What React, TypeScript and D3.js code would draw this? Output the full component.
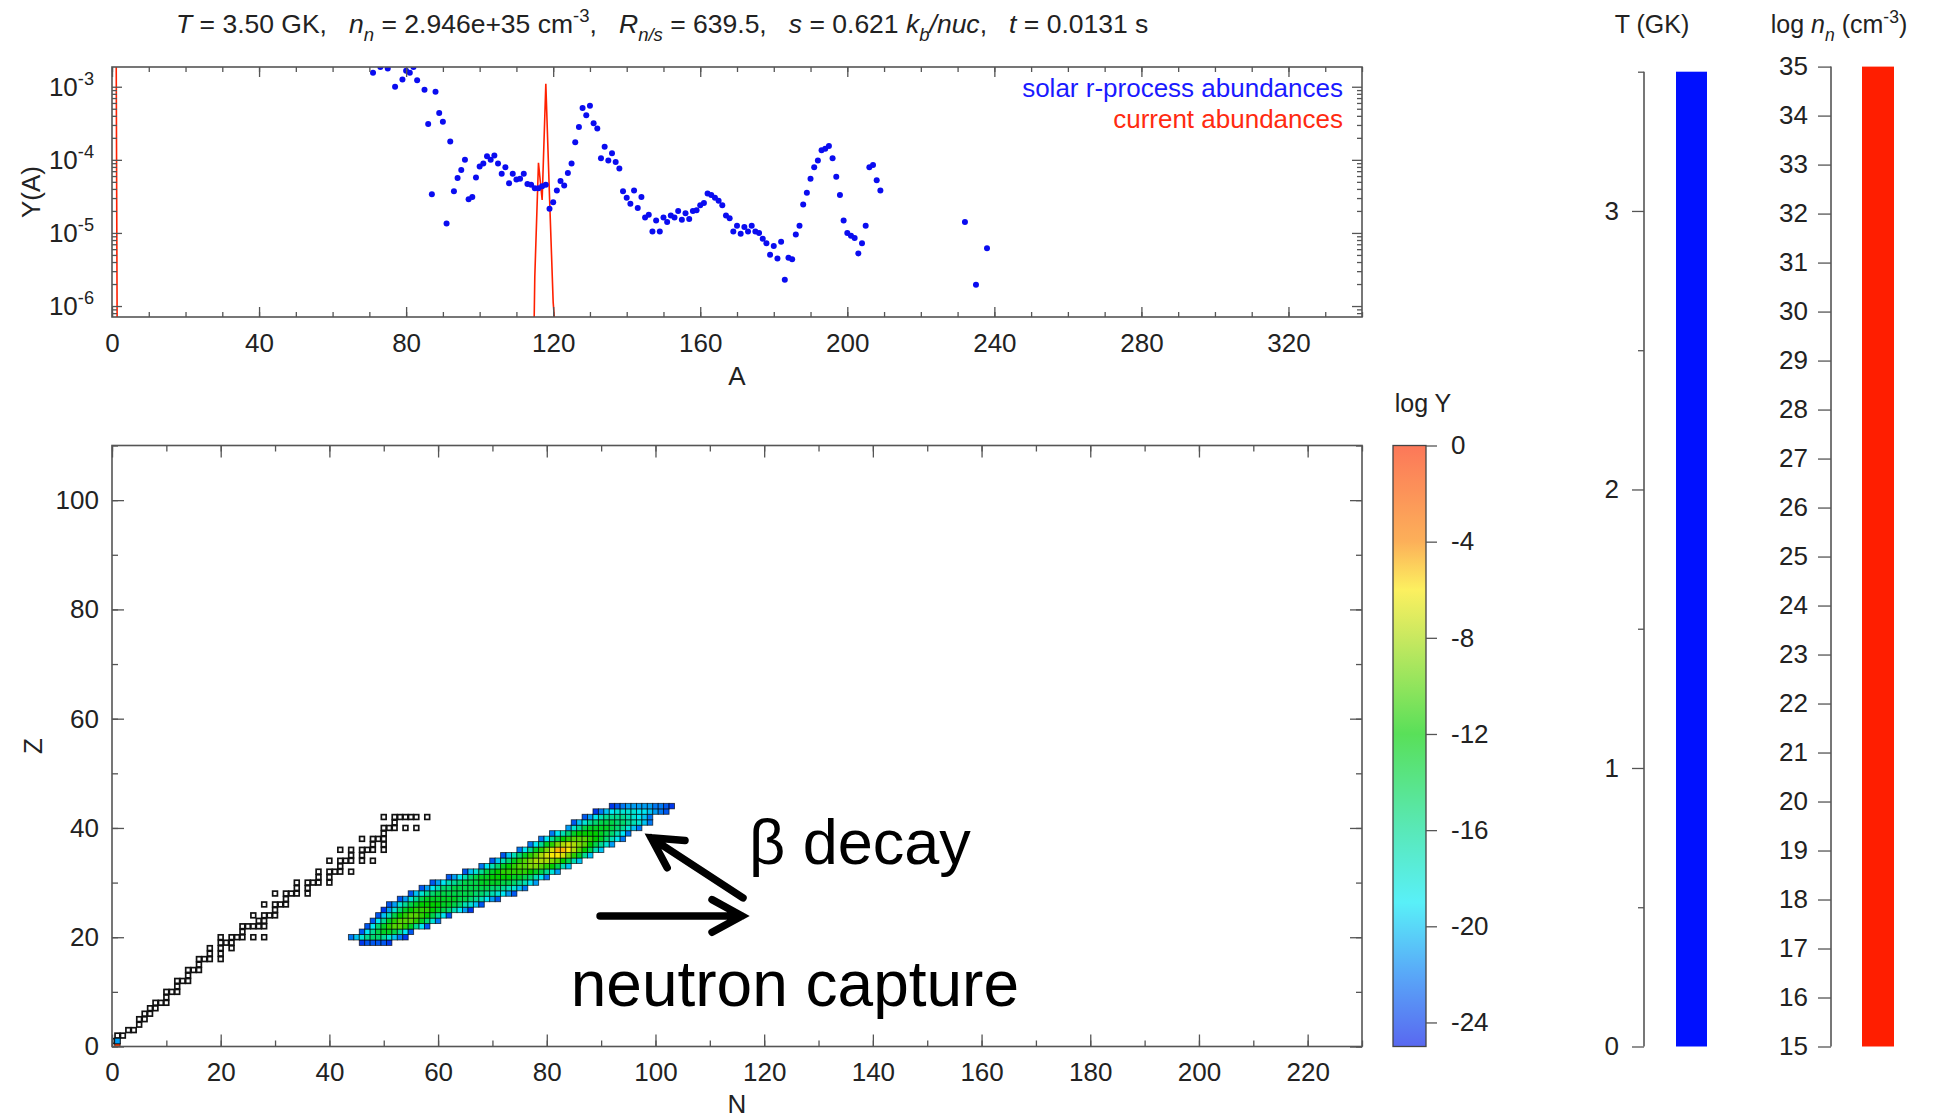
import { useEffect, useRef } from 'react';
import * as d3 from 'd3';

const W = 1935;
const H = 1119;
const FONT = '"Liberation Sans", Arial, Helvetica, sans-serif';
const AXIS = '#555';

// solar r-process abundances (A, log10 Y)
const solarA = [71, 73, 75, 77, 79, 80, 81, 82, 83, 85, 86, 87, 88, 89, 90, 91, 92, 93, 94, 95, 96, 97, 98, 99,
  100, 101, 102, 103, 104, 105, 106, 107, 108, 109, 110, 111, 112, 113, 114, 115, 116, 117, 118, 119, 120,
  121, 122, 123, 124, 125, 126, 127, 128, 129, 130, 131, 132, 133, 134, 135, 136, 137, 138, 139, 140, 141,
  142, 143, 144, 145, 146, 147, 148, 149, 150, 151, 152, 153, 154, 155, 156, 157, 158, 159, 160, 161, 162,
  163, 164, 165, 166, 167, 168, 169, 170, 171, 172, 173, 174, 175, 176, 177, 178, 179, 180, 181, 182, 183,
  184, 185, 186, 187, 188, 189, 190, 191, 192, 193, 194, 195, 196, 197, 198, 199, 200, 201, 202, 203, 204,
  205, 206, 207, 208, 209, 232, 235, 238];
const solarLogY = [-2.81, -2.73, -2.75, -3.0, -2.9, -2.78, -2.81, -2.73, -2.91, -3.04, -3.51, -4.47, -3.07,
  -3.36, -3.48, -4.87, -3.75, -4.43, -4.25, -4.14, -4.0, -4.54, -4.51, -4.24, -4.09, -4.05, -3.95, -4.0,
  -3.94, -4.05, -4.19, -4.1, -4.32, -4.19, -4.27, -4.26, -4.19, -4.33, -4.34, -4.39, -4.39, -4.36, -4.34,
  -4.67, -4.58, -4.42, -4.29, -4.35, -4.18, -4.05, -3.76, -3.55, -3.29, -3.39, -3.26, -3.5, -3.57, -3.98,
  -3.82, -4.01, -3.91, -4.03, -4.12, -4.43, -4.52, -4.6, -4.42, -4.66, -4.51, -4.79, -4.75, -4.98, -4.83,
  -4.98, -4.79, -4.85, -4.76, -4.79, -4.7, -4.82, -4.73, -4.81, -4.7, -4.69, -4.62, -4.59, -4.46, -4.48,
  -4.52, -4.56, -4.62, -4.76, -4.8, -4.98, -4.9, -5.01, -4.92, -4.98, -4.9, -4.98, -5.0, -5.08, -5.14,
  -5.3, -5.18, -5.35, -5.12, -5.64, -5.34, -5.36, -5.02, -4.9, -4.61, -4.45, -4.26, -4.1, -4.01, -3.87,
  -3.85, -3.81, -3.98, -4.23, -4.48, -4.83, -5.0, -5.04, -5.07, -5.28, -5.14, -4.9, -4.1, -4.07, -4.28,
  -4.42, -4.85, -5.71, -5.21];

// current abundances (A, log10 Y)
const currentA = [1, 2, 114, 115, 116, 117, 118, 119, 120, 121];
const currentLogY = [-0.5, -15, -9, -5.6, -4.04, -4.55, -2.96, -4.5, -5.95, -6.6];

// r-process path: [Z, first N, log Y of each cell]
const pathRows: [number, number, number[]][] = [
  [19, 46, [-24, -23, -23, -23, -23, -24]],
  [20, 44, [-22, -20, -18, -16, -15, -15, -16, -18, -20, -22, -24]],
  [21, 46, [-23, -19, -16, -14, -13, -13, -14, -16, -19, -23]],
  [22, 47, [-23, -19, -15, -13, -11, -10, -10, -11, -13, -16, -19, -23]],
  [23, 48, [-23, -19, -16, -13, -11, -10, -10, -10, -11, -13, -15, -18, -22]],
  [24, 49, [-23, -20, -17, -14, -12, -11, -10, -10, -11, -12, -14, -16, -19, -23]],
  [25, 50, [-24, -21, -18, -15, -13, -12, -11, -11, -11, -12, -13, -14, -15, -17, -19, -21, -24]],
  [26, 51, [-23, -21, -18, -16, -14, -13, -12, -12, -12, -12, -13, -13, -14, -15, -17, -18, -20, -23]],
  [27, 53, [-23, -21, -18, -16, -14, -13, -13, -13, -13, -13, -13, -14, -14, -15, -16, -17, -19, -21, -23]],
  [28, 55, [-23, -20, -18, -16, -15, -14, -14, -14, -14, -14, -14, -14, -15, -15, -16, -17, -18, -19, -21, -23]],
  [29, 57, [-23, -21, -19, -17, -15, -15, -14, -14, -14, -14, -14, -14, -14, -15, -15, -16, -17, -18, -20, -22]],
  [30, 59, [-23, -21, -19, -17, -16, -15, -14, -14, -14, -13, -13, -13, -13, -14, -14, -15, -16, -17, -19, -21]],
  [31, 62, [-23, -21, -19, -17, -15, -14, -13, -13, -12, -12, -12, -12, -13, -13, -14, -15, -17, -19, -22]],
  [32, 65, [-23, -20, -18, -16, -14, -13, -12, -11, -11, -11, -11, -11, -12, -13, -14, -16, -18, -21]],
  [33, 68, [-22, -19, -17, -15, -13, -12, -11, -10, -10, -9, -9, -10, -11, -12, -14, -17, -20]],
  [34, 70, [-23, -20, -17, -15, -13, -11, -10, -9, -8, -8, -8, -9, -10, -12, -14, -17, -20]],
  [35, 72, [-23, -20, -17, -15, -13, -11, -10, -8, -7, -6, -6, -7, -9, -11, -13, -16, -20]],
  [36, 75, [-22, -19, -16, -13, -11, -9, -7, -5, -5, -6, -8, -10, -12, -14, -17, -20]],
  [37, 77, [-22, -19, -16, -13, -11, -9, -8, -7, -8, -9, -10, -12, -14, -16, -18, -21]],
  [38, 79, [-22, -19, -16, -14, -12, -11, -10, -10, -10, -11, -12, -13, -15, -17, -19, -22]],
  [39, 81, [-22, -19, -17, -15, -13, -12, -12, -12, -12, -13, -14, -15, -17, -19, -22]],
  [40, 84, [-21, -18, -16, -14, -13, -13, -13, -13, -14, -15, -16, -18, -20, -22]],
  [41, 85, [-23, -20, -18, -16, -15, -14, -14, -14, -15, -15, -16, -17, -18, -20, -22]],
  [42, 87, [-23, -21, -19, -17, -16, -16, -16, -16, -17, -18, -19, -20, -22]],
  [43, 89, [-24, -22, -20, -19, -18, -18, -18, -18, -19, -19, -20, -21, -22, -23]],
  [44, 92, [-24, -23, -22, -21, -21, -21, -21, -21, -22, -22, -23, -24]],
];
// light particles: [N, Z, log Y]
const lightCells: [number, number, number][] = [[1, 0, -0.4], [1, 1, -21]];

// stable isotopes: [Z, N values]
const stableIsotopes: [number, number[]][] = [
  [1, [0, 1]], [2, [1, 2]], [3, [3, 4]], [4, [5]], [5, [5, 6]], [6, [6, 7]], [7, [7, 8]], [8, [8, 9, 10]],
  [9, [10]], [10, [10, 11, 12]], [11, [12]], [12, [12, 13, 14]], [13, [14]], [14, [14, 15, 16]], [15, [16]],
  [16, [16, 17, 18, 20]], [17, [18, 20]], [18, [18, 20, 22]], [19, [20, 21, 22]], [20, [20, 22, 23, 24, 26, 28]],
  [21, [24]], [22, [24, 25, 26, 27, 28]], [23, [27, 28]], [24, [26, 28, 29, 30]], [25, [30]], [26, [28, 30, 31, 32]],
  [27, [32]], [28, [30, 32, 33, 34, 36]], [29, [34, 36]], [30, [34, 36, 37, 38, 40]], [31, [38, 40]],
  [32, [38, 40, 41, 42, 44]], [33, [42]], [34, [40, 42, 43, 44, 46, 48]], [35, [44, 46]],
  [36, [42, 44, 46, 47, 48, 50]], [37, [48, 50]], [38, [46, 48, 49, 50]], [39, [50]], [40, [50, 51, 52, 54, 56]],
  [41, [52]], [42, [50, 52, 53, 54, 55, 56, 58]],
];

const colorStops = [-25, -22, -19, -16, -12, -8, -6, -4, 0];
const colorValues = ['#0017e8', '#0079f4', '#00e8f4', '#00dc92', '#00cf00', '#abdc0a', '#fae80a', '#fa8500', '#fa2f00'];
const colorbarTicks = [0, -4, -8, -12, -16, -20, -24];

const temperature = 3.5;
const logNn = Math.log10(2.946e35);

const titleParts = [
  { t: 'T', i: true }, { t: ' = 3.50 GK,   ' }, { t: 'n', i: true }, { t: 'n', i: true, sub: true },
  { t: ' = 2.946e+35 cm' }, { t: '-3', sup: true }, { t: ',   ' }, { t: 'R', i: true },
  { t: 'n/s', i: true, sub: true }, { t: ' = 639.5,   ' }, { t: 's', i: true }, { t: ' = 0.621 ' },
  { t: 'k', i: true }, { t: 'b', i: true, sub: true }, { t: '/nuc', i: true }, { t: ',   ' },
  { t: 't', i: true }, { t: ' = 0.0131 s' },
];

type Part = { t: string; i?: boolean; sub?: boolean; sup?: boolean };

const rich = (sel: any, parts: Part[], size: number) => {
  let shift = 0;
  parts.forEach(p => {
    const target = p.sub ? size * 0.3 : p.sup ? -size * 0.42 : 0;
    sel.append('tspan')
      .attr('dy', target - shift)
      .attr('font-size', p.sub || p.sup ? size * 0.7 : size)
      .attr('font-style', p.i ? 'italic' : 'normal')
      .text(p.t);
    shift = target;
  });
};

const plain = (d: any) => String(d);

const styleAxis = (g: any, size = 26) => {
  g.select('.domain').remove();
  g.attr('font-family', FONT).attr('font-size', size).attr('color', '#222');
  g.selectAll('.tick line').attr('stroke', AXIS).attr('stroke-width', 1.3);
};

const App = () => {
  const svgRef = useRef<SVGSVGElement>(null);

  useEffect(() => {
    const svg = d3.select(svgRef.current);
    svg.selectAll('*').remove();
    svg.append('rect').attr('width', W).attr('height', H).attr('fill', '#fff');
    const defs = svg.append('defs');

    // ---------- title ----------
    const title = svg.append('text')
      .attr('x', 176).attr('y', 33)
      .attr('font-family', FONT).attr('font-size', 26.5).attr('fill', '#222')
      .style('white-space', 'pre');
    rich(title, titleParts, 26.5);

    // ---------- top panel: Y(A) ----------
    const xA = d3.scaleLinear().domain([0, 340]).range([112, 1362]);
    const yY = d3.scaleLog().domain([Math.pow(10, -6.15), Math.pow(10, -2.73)]).range([317, 67]);
    const [tx0, tx1] = xA.range();
    const [ty1, ty0] = yY.range();

    defs.append('clipPath').attr('id', 'clip-top').append('rect')
      .attr('x', tx0).attr('y', ty0).attr('width', tx1 - tx0).attr('height', ty1 - ty0);

    const gTop = svg.append('g');
    const plotTop = gTop.append('g').attr('clip-path', 'url(#clip-top)');

    const current = currentA.map((a, i) => ({ a, y: Math.pow(10, currentLogY[i]) }));
    plotTop.append('path')
      .datum(current)
      .attr('fill', 'none')
      .attr('stroke', '#ff2000')
      .attr('stroke-width', 1.6)
      .attr('d', d3.line<any>().x(d => xA(d.a)).y(d => yY(d.y)));

    plotTop.selectAll('.solar')
      .data(solarA.map((a, i) => ({ a, y: Math.pow(10, solarLogY[i]) })))
      .enter()
      .append('circle')
      .attr('cx', d => xA(d.a))
      .attr('cy', d => yY(d.y))
      .attr('r', 3)
      .attr('fill', '#0a0cf0');

    // x ticks
    const minorA = d3.range(0, 341, 10);
    const majorA = d3.range(0, 321, 40);
    styleAxis(gTop.append('g').attr('transform', `translate(0,${ty1})`)
      .call(d3.axisBottom(xA).tickValues(majorA).tickSize(-10).tickPadding(17).tickFormat(plain)));
    styleAxis(gTop.append('g').attr('transform', `translate(0,${ty1})`)
      .call(d3.axisBottom(xA).tickValues(minorA).tickSize(-5).tickFormat(() => '')));
    styleAxis(gTop.append('g').attr('transform', `translate(0,${ty0})`)
      .call(d3.axisTop(xA).tickValues(majorA).tickSize(-10).tickFormat(() => '')));
    styleAxis(gTop.append('g').attr('transform', `translate(0,${ty0})`)
      .call(d3.axisTop(xA).tickValues(minorA).tickSize(-5).tickFormat(() => '')));

    // log y ticks
    const majorY = [-3, -4, -5, -6].map(k => Math.pow(10, k));
    const minorY: number[] = [];
    for (let k = -7; k <= -3; k++) {
      for (let m = 2; m <= 9; m++) {
        const v = m * Math.pow(10, k);
        if (v > yY.domain()[0] && v < yY.domain()[1]) minorY.push(v);
      }
    }
    [[tx0, d3.axisLeft], [tx1, d3.axisRight]].forEach(([x, ax]: any) => {
      styleAxis(gTop.append('g').attr('transform', `translate(${x},0)`)
        .call(ax(yY).tickValues(majorY).tickSize(-10).tickFormat(() => '')));
      styleAxis(gTop.append('g').attr('transform', `translate(${x},0)`)
        .call(ax(yY).tickValues(minorY).tickSize(-5).tickFormat(() => '')));
    });
    [-3, -4, -5, -6].forEach(k => {
      const t = gTop.append('text')
        .attr('x', tx0 - 18).attr('y', yY(Math.pow(10, k)) + 9)
        .attr('text-anchor', 'end')
        .attr('font-family', FONT).attr('font-size', 26).attr('fill', '#222');
      rich(t, [{ t: '10' }, { t: String(k), sup: true }], 26);
    });

    gTop.append('rect')
      .attr('x', tx0).attr('y', ty0).attr('width', tx1 - tx0).attr('height', ty1 - ty0)
      .attr('fill', 'none').attr('stroke', AXIS).attr('stroke-width', 1.6);

    gTop.append('text')
      .attr('transform', `translate(31,${(ty0 + ty1) / 2}) rotate(-90)`)
      .attr('text-anchor', 'middle').attr('dy', '0.35em')
      .attr('font-family', FONT).attr('font-size', 26).attr('fill', '#222')
      .text('Y(A)');
    gTop.append('text')
      .attr('x', (tx0 + tx1) / 2).attr('y', 385)
      .attr('text-anchor', 'middle')
      .attr('font-family', FONT).attr('font-size', 26).attr('fill', '#222')
      .text('A');

    gTop.append('text')
      .attr('x', 1343).attr('y', 97).attr('text-anchor', 'end')
      .attr('font-family', FONT).attr('font-size', 26).attr('fill', '#1a1aff')
      .text('solar r-process abundances');
    gTop.append('text')
      .attr('x', 1343).attr('y', 128).attr('text-anchor', 'end')
      .attr('font-family', FONT).attr('font-size', 26).attr('fill', '#ff2a10')
      .text('current abundances');

    // ---------- bottom panel: chart of nuclides ----------
    const xN = d3.scaleLinear().domain([0, 230]).range([112, 1362]);
    const yZ = d3.scaleLinear().domain([0, 110]).range([1046.5, 445.5]);
    const [bx0, bx1] = xN.range();
    const [by1, by0] = yZ.range();
    const cw = xN(1) - xN(0);
    const ch = yZ(0) - yZ(1);
    const color = d3.scaleLinear<string>().domain(colorStops).range(colorValues).clamp(true);

    defs.append('clipPath').attr('id', 'clip-bottom').append('rect')
      .attr('x', bx0).attr('y', by0).attr('width', bx1 - bx0).attr('height', by1 - by0);

    const gBot = svg.append('g');
    const plotBot = gBot.append('g').attr('clip-path', 'url(#clip-bottom)');

    const stable = stableIsotopes.flatMap(([z, ns]) => ns.map(n => ({ n, z })));
    const sq = cw * 0.88;
    plotBot.selectAll('.stable')
      .data(stable)
      .enter()
      .append('rect')
      .attr('x', d => xN(d.n) - sq / 2)
      .attr('y', d => yZ(d.z) - sq / 2)
      .attr('width', sq)
      .attr('height', sq)
      .attr('fill', '#fff')
      .attr('stroke', '#111')
      .attr('stroke-width', 1.7);

    const cells = pathRows.flatMap(([z, n0, vals]) => vals.map((v, i) => ({ n: n0 + i, z, v })))
      .concat(lightCells.map(([n, z, v]) => ({ n, z, v })));
    plotBot.selectAll('.cell')
      .data(cells)
      .enter()
      .append('rect')
      .attr('x', d => xN(d.n - 0.5))
      .attr('y', d => yZ(d.z + 0.5))
      .attr('width', cw)
      .attr('height', ch)
      .attr('fill', d => color(d.v))
      .attr('stroke', '#000')
      .attr('stroke-opacity', 0.7)
      .attr('stroke-width', 0.9);

    const majorN = d3.range(0, 221, 20);
    const minorN = d3.range(0, 231, 10);
    const majorZ = d3.range(0, 101, 20);
    const minorZ = d3.range(0, 111, 10);
    styleAxis(gBot.append('g').attr('transform', `translate(0,${by1})`)
      .call(d3.axisBottom(xN).tickValues(majorN).tickSize(-12).tickPadding(16).tickFormat(plain)));
    styleAxis(gBot.append('g').attr('transform', `translate(0,${by1})`)
      .call(d3.axisBottom(xN).tickValues(minorN).tickSize(-6).tickFormat(() => '')));
    styleAxis(gBot.append('g').attr('transform', `translate(0,${by0})`)
      .call(d3.axisTop(xN).tickValues(majorN).tickSize(-12).tickFormat(() => '')));
    styleAxis(gBot.append('g').attr('transform', `translate(0,${by0})`)
      .call(d3.axisTop(xN).tickValues(minorN).tickSize(-6).tickFormat(() => '')));
    styleAxis(gBot.append('g').attr('transform', `translate(${bx0},0)`)
      .call(d3.axisLeft(yZ).tickValues(majorZ).tickSize(-12).tickPadding(13).tickFormat(plain)));
    styleAxis(gBot.append('g').attr('transform', `translate(${bx0},0)`)
      .call(d3.axisLeft(yZ).tickValues(minorZ).tickSize(-6).tickFormat(() => '')));
    styleAxis(gBot.append('g').attr('transform', `translate(${bx1},0)`)
      .call(d3.axisRight(yZ).tickValues(majorZ).tickSize(-12).tickFormat(() => '')));
    styleAxis(gBot.append('g').attr('transform', `translate(${bx1},0)`)
      .call(d3.axisRight(yZ).tickValues(minorZ).tickSize(-6).tickFormat(() => '')));

    gBot.append('rect')
      .attr('x', bx0).attr('y', by0).attr('width', bx1 - bx0).attr('height', by1 - by0)
      .attr('fill', 'none').attr('stroke', AXIS).attr('stroke-width', 1.6);

    gBot.append('text')
      .attr('transform', `translate(33,${(by0 + by1) / 2}) rotate(-90)`)
      .attr('text-anchor', 'middle').attr('dy', '0.35em')
      .attr('font-family', FONT).attr('font-size', 26).attr('fill', '#222')
      .text('Z');
    gBot.append('text')
      .attr('x', (bx0 + bx1) / 2).attr('y', 1113)
      .attr('text-anchor', 'middle')
      .attr('font-family', FONT).attr('font-size', 26).attr('fill', '#222')
      .text('N');

    // annotations
    const drawArrow = (from: number[], to: number[]) => {
      const x1 = xN(from[0]), y1 = yZ(from[1]), x2 = xN(to[0]), y2 = yZ(to[1]);
      const ang = Math.atan2(y2 - y1, x2 - x1);
      const len = 34, spread = 0.5;
      const a1 = [x2 - len * Math.cos(ang - spread), y2 - len * Math.sin(ang - spread)];
      const a2 = [x2 - len * Math.cos(ang + spread), y2 - len * Math.sin(ang + spread)];
      gBot.append('path')
        .attr('d', `M${x1},${y1}L${x2},${y2}M${a1[0]},${a1[1]}L${x2},${y2}L${a2[0]},${a2[1]}`)
        .attr('fill', 'none').attr('stroke', '#000').attr('stroke-width', 7.5)
        .attr('stroke-linecap', 'round').attr('stroke-linejoin', 'miter');
    };
    drawArrow([89.8, 23.9], [115.9, 23.9]);
    drawArrow([116.1, 27.2], [99.2, 38.2]);

    gBot.append('text')
      .attr('x', xN(117.2)).attr('y', yZ(33.4))
      .attr('font-family', FONT).attr('font-size', 63).attr('fill', '#000')
      .text('β decay');
    gBot.append('text')
      .attr('x', xN(84.4)).attr('y', yZ(7.4))
      .attr('font-family', FONT).attr('font-size', 64).attr('fill', '#000')
      .text('neutron capture');

    // ---------- colorbar ----------
    const cScale = d3.scaleLinear().domain([-25, 0]).range([1046.5, 445.5]);
    const grad = defs.append('linearGradient').attr('id', 'cbar')
      .attr('x1', '0%').attr('y1', '100%').attr('x2', '0%').attr('y2', '0%');
    d3.range(-25, 0.01, 1).forEach(v => {
      grad.append('stop').attr('offset', `${((v + 25) / 25) * 100}%`).attr('stop-color', color(v));
    });
    const cbx0 = 1393, cbx1 = 1426;
    svg.append('rect')
      .attr('x', cbx0).attr('y', cScale(0)).attr('width', cbx1 - cbx0).attr('height', cScale(-25) - cScale(0))
      .attr('fill', 'url(#cbar)').attr('fill-opacity', 0.65);
    svg.append('rect')
      .attr('x', cbx0).attr('y', cScale(0)).attr('width', cbx1 - cbx0).attr('height', cScale(-25) - cScale(0))
      .attr('fill', 'none').attr('stroke', '#444').attr('stroke-width', 1.3);
    styleAxis(svg.append('g').attr('transform', `translate(${cbx1},0)`)
      .call(d3.axisRight(cScale).tickValues(colorbarTicks).tickSize(11).tickPadding(14).tickFormat(plain)));
    svg.append('text')
      .attr('x', 1423).attr('y', 412).attr('text-anchor', 'middle')
      .attr('font-family', FONT).attr('font-size', 25).attr('fill', '#222')
      .text('log Y');

    // ---------- temperature bar ----------
    const tScale = d3.scaleLinear().domain([0, 3.5]).range([1046.5, 71.7]);
    const tAxisX = 1644;
    svg.append('rect')
      .attr('x', 1676).attr('y', tScale(temperature)).attr('width', 31)
      .attr('height', tScale(0) - tScale(temperature))
      .attr('fill', '#0010ff');
    svg.append('line')
      .attr('x1', tAxisX).attr('x2', tAxisX).attr('y1', tScale(0)).attr('y2', tScale(3.5))
      .attr('stroke', AXIS).attr('stroke-width', 1.6);
    styleAxis(svg.append('g').attr('transform', `translate(${tAxisX},0)`)
      .call(d3.axisLeft(tScale).tickValues([0, 1, 2, 3]).tickSize(12).tickPadding(13).tickFormat(plain)));
    styleAxis(svg.append('g').attr('transform', `translate(${tAxisX},0)`)
      .call(d3.axisLeft(tScale).tickValues([0.5, 1.5, 2.5, 3.5]).tickSize(6).tickFormat(() => '')));
    svg.append('text')
      .attr('x', 1652).attr('y', 33).attr('text-anchor', 'middle')
      .attr('font-family', FONT).attr('font-size', 25).attr('fill', '#222')
      .text('T (GK)');

    // ---------- neutron density bar ----------
    const nScale = d3.scaleLinear().domain([15, 35]).range([1046.5, 66.6]);
    const nAxisX = 1831;
    const nTop = Math.min(logNn, 35);
    svg.append('rect')
      .attr('x', 1862).attr('y', nScale(nTop)).attr('width', 32)
      .attr('height', nScale(15) - nScale(nTop))
      .attr('fill', '#ff1e00');
    svg.append('line')
      .attr('x1', nAxisX).attr('x2', nAxisX).attr('y1', nScale(15)).attr('y2', nScale(35))
      .attr('stroke', AXIS).attr('stroke-width', 1.6);
    styleAxis(svg.append('g').attr('transform', `translate(${nAxisX},0)`)
      .call(d3.axisLeft(nScale).tickValues(d3.range(15, 36, 1)).tickSize(13).tickPadding(10).tickFormat(plain)));
    const nTitle = svg.append('text')
      .attr('x', 1839).attr('y', 33).attr('text-anchor', 'middle')
      .attr('font-family', FONT).attr('font-size', 25).attr('fill', '#222')
      .style('white-space', 'pre');
    rich(nTitle, [{ t: 'log ' }, { t: 'n', i: true }, { t: 'n', i: true, sub: true }, { t: ' (cm' }, { t: '-3', sup: true }, { t: ')' }], 25);
  }, []);

  return (
    <div style={{ position: 'absolute', left: 0, top: 0 }}>
      <svg ref={svgRef} width={W} height={H} style={{ display: 'block' }}></svg>
    </div>
  );
};

export default App;
